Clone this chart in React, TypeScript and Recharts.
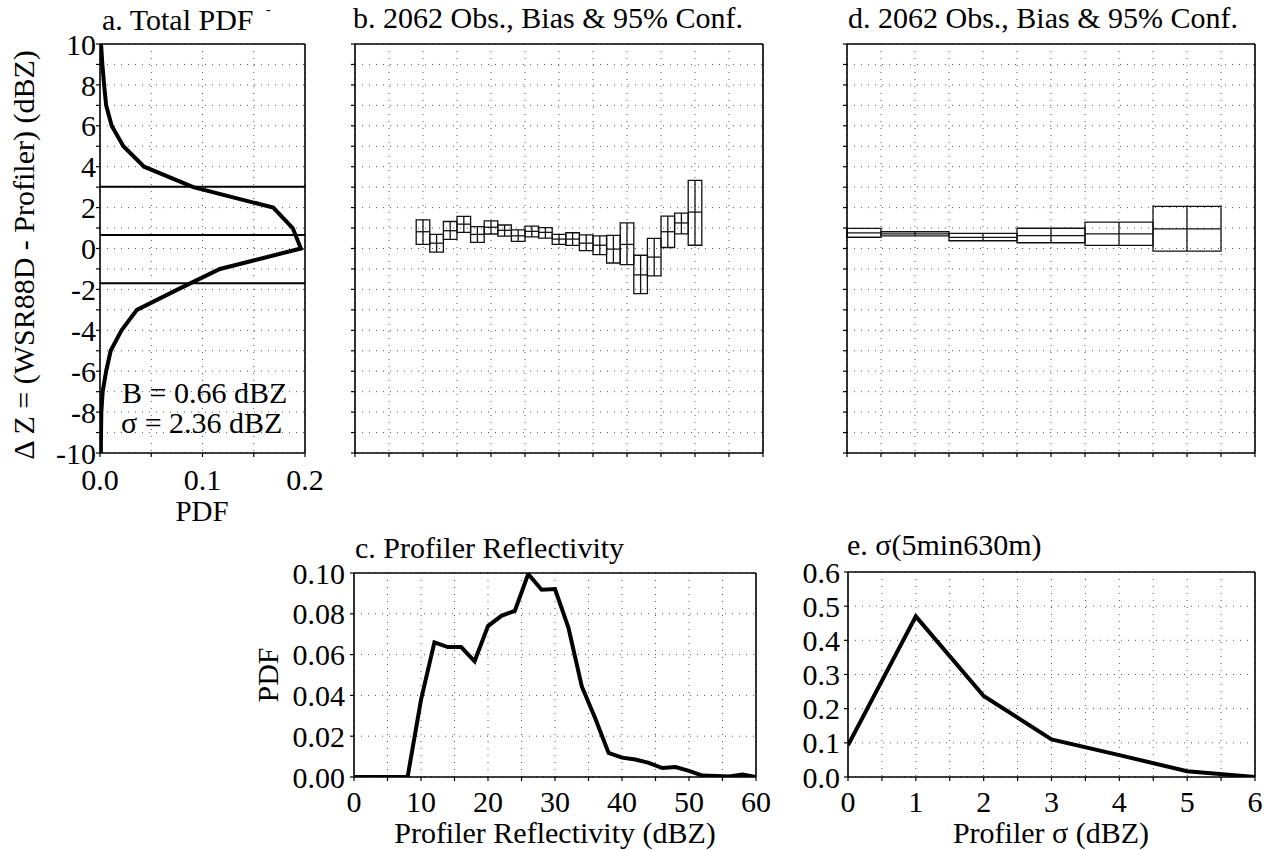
import React from "react";
import { LineChart, Line, XAxis, YAxis, CartesianGrid, ReferenceLine, ReferenceArea } from "recharts";

// a. total PDF of the reflectivity difference
const dzLevels = [10, 9, 8, 7, 6, 5, 4, 3, 2, 1, 0, -1, -2, -3, -4, -5, -6, -7, -8, -9, -10];
const totalPdf = [0.001, 0.0023, 0.004, 0.006, 0.0114, 0.0228, 0.043, 0.091, 0.169, 0.188, 0.196, 0.117, 0.076, 0.036, 0.021, 0.0104, 0.006, 0.0026, 0.0013, 0.001, 0.0008];
const bias = 0.66;
const sigma = 2.36;

// b. bias and 95% confidence per profiler reflectivity bin
const reflBins = [10, 12, 14, 16, 18, 20, 22, 24, 26, 28, 30, 32, 34, 36, 38, 40, 42, 44, 46, 48, 50];
const reflHi = [1.4, 0.69, 1.32, 1.57, 1.07, 1.35, 1.15, 0.91, 1.09, 1.02, 0.69, 0.77, 0.67, 0.62, 0.64, 1.25, -0.33, 0.5, 1.58, 1.73, 3.33];
const reflMid = [0.82, 0.26, 0.87, 1.19, 0.69, 1.04, 0.89, 0.62, 0.84, 0.79, 0.46, 0.46, 0.26, 0.16, -0.03, 0.2, -1.29, -0.42, 0.82, 1.25, 1.78];
const reflLo = [0.2, -0.18, 0.45, 0.79, 0.3, 0.71, 0.61, 0.35, 0.57, 0.51, 0.2, 0.15, -0.1, -0.3, -0.71, -0.79, -2.21, -1.34, 0.05, 0.72, 0.16];
const reflBinWidth = 2;

// d. bias and 95% confidence per profiler sigma bin
const sigmaBins = [0, 1, 2, 3, 4, 5];
const sigmaHi = [0.98, 0.82, 0.74, 0.99, 1.29, 2.06];
const sigmaMid = [0.76, 0.72, 0.54, 0.63, 0.72, 0.96];
const sigmaLo = [0.55, 0.62, 0.38, 0.28, 0.15, -0.13];
const sigmaBinWidth = 1;

// c. profiler reflectivity PDF
const reflX = [0, 2, 4, 6, 8, 10, 12, 14, 16, 18, 20, 22, 24, 26, 28, 30, 32, 34, 36, 38, 40, 42, 44, 46, 48, 50, 52, 54, 56, 58, 60];
const reflPdf = [0, 0, 0, 0, 0, 0.0378, 0.066, 0.0637, 0.0637, 0.0567, 0.074, 0.079, 0.0814, 0.0995, 0.0918, 0.0921, 0.0732, 0.0444, 0.0288, 0.0118, 0.0095, 0.0086, 0.0069, 0.0044, 0.0049, 0.003, 0.0007, 0.0005, 0.0002, 0.0012, 0];

// e. profiler sigma PDF
const sigmaX = [0, 1, 2, 3, 4, 5, 6];
const sigmaPdf = [0.093, 0.47, 0.237, 0.11, 0.064, 0.017, 0];

// ticks
const dzTicks = [-10, -9, -8, -7, -6, -5, -4, -3, -2, -1, 0, 1, 2, 3, 4, 5, 6, 7, 8, 9, 10];
const pdfTicks = [0, 0.05, 0.1, 0.15, 0.2];
const reflTicks = [0, 5, 10, 15, 20, 25, 30, 35, 40, 45, 50, 55, 60];
const cPdfTicks = [0, 0.02, 0.04, 0.06, 0.08, 0.1];
const sigmaTicks = [0, 0.5, 1, 1.5, 2, 2.5, 3, 3.5, 4, 4.5, 5, 5.5, 6];
const ePdfTicks = [0, 0.1, 0.2, 0.3, 0.4, 0.5, 0.6];

const FONT = "'Liberation Serif', 'Times New Roman', serif";
const tickFont = { fontSize: 30, fill: "#000", fontFamily: FONT };
const axisLine = { stroke: "#000", strokeWidth: 1.6 };
const tickLine = { stroke: "#000", strokeWidth: 1.2 };
const blank = () => "";

const panelA = dzLevels.map((dz, i) => ({ dz, pdf: totalPdf[i] }));
const panelC = reflX.map((x, i) => ({ x, pdf: reflPdf[i] }));
const panelE = sigmaX.map((x, i) => ({ x, pdf: sigmaPdf[i] }));

type FrameOpts = {
  xKey: string;
  xDomain: [number, number];
  xTicks: number[];
  xFmt: (v: number) => string;
  yDomain: [number, number];
  yTicks: number[];
  yFmt: (v: number) => string;
  leftWidth: number;
  yMargin: number;
  xMargin: number;
};

function frame(o: FrameOpts) {
  return [
    <CartesianGrid key="grid" stroke="#555" strokeDasharray="1 6" strokeWidth={1} />,
    <XAxis key="xb" type="number" dataKey={o.xKey} domain={o.xDomain} ticks={o.xTicks} interval={0}
      allowDataOverflow tickFormatter={o.xFmt} tick={tickFont} tickSize={4} tickMargin={o.xMargin}
      height={40} axisLine={axisLine} tickLine={tickLine} />,
    <XAxis key="xt" xAxisId="top" orientation="top" type="number" domain={o.xDomain} ticks={o.xTicks}
      interval={0} allowDataOverflow tick={false} tickSize={4} height={5} axisLine={axisLine} tickLine={tickLine} />,
    <YAxis key="yl" type="number" domain={o.yDomain} ticks={o.yTicks} interval={0} allowDataOverflow
      tickFormatter={o.yFmt} tick={tickFont} tickSize={4} tickMargin={o.yMargin} width={o.leftWidth}
      axisLine={axisLine} tickLine={tickLine} />,
    <YAxis key="yr" yAxisId="right" orientation="right" type="number" domain={o.yDomain} ticks={o.yTicks}
      interval={0} allowDataOverflow tick={false} tickSize={4} width={5} axisLine={axisLine} tickLine={tickLine} />,
  ];
}

function boxes(bins: number[], lo: number[], mid: number[], hi: number[], width: number, xMin: number) {
  return bins.map((c, i) => {
    const x1 = Math.max(xMin, c - width / 2);
    const x2 = c + width / 2;
    return [
      <ReferenceArea key={`a${i}`} x1={x1} x2={x2} y1={lo[i]} y2={hi[i]} fill="none" fillOpacity={0}
        stroke="#111" strokeWidth={1.3} ifOverflow="visible" />,
      <ReferenceLine key={`m${i}`} segment={[{ x: x1, y: mid[i] }, { x: x2, y: mid[i] }]}
        stroke="#111" strokeWidth={1.3} ifOverflow="visible" />,
      <ReferenceLine key={`v${i}`} segment={[{ x: c, y: lo[i] }, { x: c, y: hi[i] }]}
        stroke="#111" strokeWidth={1.3} ifOverflow="visible" />,
    ];
  });
}

const place = (left: number, top: number): React.CSSProperties => ({ position: "absolute", left, top });

export default function App() {
  const evenInt = (v: number) => (Math.round(v) % 2 === 0 ? String(v) : "");
  return (
    <div style={{ position: "absolute", left: 0, top: 0, width: 1271, height: 850, background: "#fff", fontFamily: FONT }}>
      <style>{"svg text { font-family: 'Liberation Serif', 'Times New Roman', serif; }"}</style>
      <div style={place(0, 0)}>
        <LineChart width={340} height={500} data={panelA} margin={{ top: 39, right: 30, bottom: 7, left: 0 }}>
          {frame({
            xKey: "pdf", xDomain: [0, 0.2], xTicks: pdfTicks,
            xFmt: (v) => (Math.abs(v * 10 - Math.round(v * 10)) < 1e-9 ? v.toFixed(1) : ""),
            yDomain: [-10, 10], yTicks: dzTicks, yFmt: evenInt, leftWidth: 100, yMargin: 0, xMargin: 12,
          })}
          <ReferenceLine y={bias + sigma} stroke="#000" strokeWidth={2} />
          <ReferenceLine y={bias} stroke="#000" strokeWidth={2} />
          <ReferenceLine y={bias - sigma} stroke="#000" strokeWidth={2} />
          <Line type="linear" dataKey="dz" stroke="#000" strokeWidth={4} dot={false} isAnimationActive={false} />
        </LineChart>
      </div>

      <div style={place(340, 0)}>
        <LineChart width={440} height={500} data={reflBins.map((bin) => ({ bin }))} margin={{ top: 39, right: 12, bottom: 7, left: 0 }}>
          {frame({
            xKey: "bin", xDomain: [0, 60], xTicks: reflTicks, xFmt: blank,
            yDomain: [-10, 10], yTicks: dzTicks, yFmt: blank, leftWidth: 15, yMargin: 0, xMargin: 0,
          })}
          {boxes(reflBins, reflLo, reflMid, reflHi, reflBinWidth, 0)}
        </LineChart>
      </div>

      <div style={place(832, 0)}>
        <LineChart width={439} height={500} data={sigmaBins.map((bin) => ({ bin }))} margin={{ top: 39, right: 11, bottom: 7, left: 0 }}>
          {frame({
            xKey: "bin", xDomain: [0, 6], xTicks: sigmaTicks, xFmt: blank,
            yDomain: [-10, 10], yTicks: dzTicks, yFmt: blank, leftWidth: 15, yMargin: 0, xMargin: 0,
          })}
          {boxes(sigmaBins, sigmaLo, sigmaMid, sigmaHi, sigmaBinWidth, 0)}
        </LineChart>
      </div>

      <div style={place(250, 530)}>
        <LineChart width={530} height={300} data={panelC} margin={{ top: 38, right: 19, bottom: 13, left: 0 }}>
          {frame({
            xKey: "x", xDomain: [0, 60], xTicks: reflTicks, xFmt: (v) => (v % 10 === 0 ? String(v) : ""),
            yDomain: [0, 0.1], yTicks: cPdfTicks, yFmt: (v) => v.toFixed(2), leftWidth: 104, yMargin: 5, xMargin: 10,
          })}
          <Line type="linear" dataKey="pdf" stroke="#000" strokeWidth={4} dot={false} isAnimationActive={false} />
        </LineChart>
      </div>

      <div style={place(780, 530)}>
        <LineChart width={491} height={300} data={panelE} margin={{ top: 37, right: 11, bottom: 13, left: 0 }}>
          {frame({
            xKey: "x", xDomain: [0, 6], xTicks: sigmaTicks, xFmt: (v) => (Number.isInteger(v) ? String(v) : ""),
            yDomain: [0, 0.6], yTicks: ePdfTicks, yFmt: (v) => v.toFixed(1), leftWidth: 68, yMargin: 4, xMargin: 10,
          })}
          <Line type="linear" dataKey="pdf" stroke="#000" strokeWidth={4} dot={false} isAnimationActive={false} />
        </LineChart>
      </div>

      <svg width={1271} height={850} style={{ position: "absolute", left: 0, top: 0, pointerEvents: "none" }}
        fontFamily={FONT} fill="#000">
        <text x={102} y={30} fontSize={30}>a. Total PDF</text>
        <text x={266} y={14} fontSize={14}>-</text>
        <text x={353} y={28} fontSize={30}>b. 2062 Obs., Bias &amp; 95% Conf.</text>
        <text x={848} y={28} fontSize={30}>d. 2062 Obs., Bias &amp; 95% Conf.</text>
        <text x={355} y={558} fontSize={30}>c. Profiler Reflectivity</text>
        <text x={847} y={555} fontSize={30}>e. σ(5min630m)</text>
        <text x={122} y={403} fontSize={30}>B = 0.66 dBZ</text>
        <text x={121} y={433} fontSize={30}>σ = 2.36 dBZ</text>
        <text x={202} y={521} fontSize={29} textAnchor="middle">PDF</text>
        <text x={555} y={843} fontSize={30} textAnchor="middle">Profiler Reflectivity (dBZ)</text>
        <text x={1051} y={843} fontSize={30} textAnchor="middle">Profiler σ (dBZ)</text>
        <text transform="translate(34 255) rotate(-90)" fontSize={30} textAnchor="middle">Δ Z = (WSR88D - Profiler) (dBZ)</text>
        <text transform="translate(278 675) rotate(-90)" fontSize={30} textAnchor="middle">PDF</text>
      </svg>
    </div>
  );
}
